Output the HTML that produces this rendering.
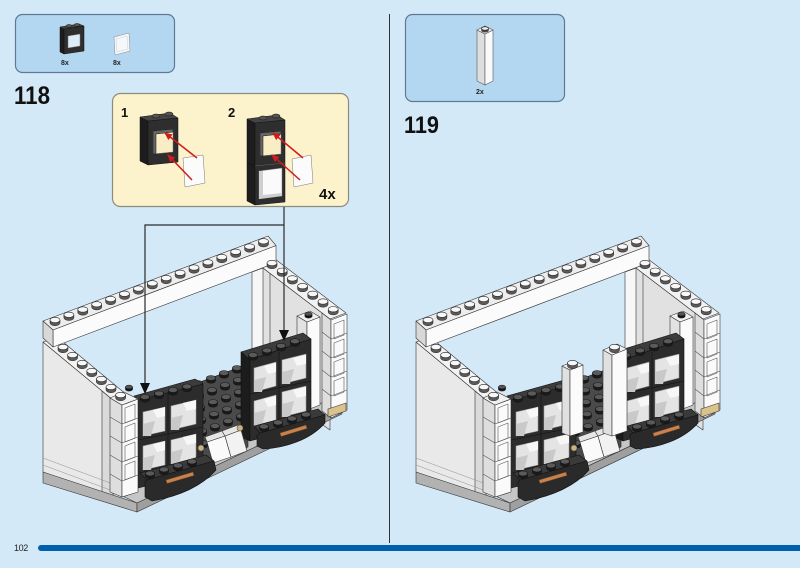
<!DOCTYPE html>
<html><head><meta charset="utf-8"><style>html,body{margin:0;padding:0;background:#d4e9f8;}svg{display:block}</style></head>
<body>
<svg width="800" height="568" viewBox="0 0 800 568" xmlns="http://www.w3.org/2000/svg" xmlns:xlink="http://www.w3.org/1999/xlink" font-family="'Liberation Sans', Arial, sans-serif">
<defs>
<g id="sw"><path d="M-5,0V3A5,2.7 0 0 0 5,3V0Z" fill="#5a5a5a" stroke="#222" stroke-width=".5"/><ellipse rx="5" ry="2.7" fill="#f8f8f8" stroke="#222" stroke-width=".6"/></g>
<g id="sd"><path d="M-4.6,0V2.8A4.6,2.5 0 0 0 4.6,2.8V0Z" fill="#1a1a1a" stroke="#111" stroke-width=".4"/><ellipse rx="4.6" ry="2.5" fill="#5a5a5a" stroke="#151515" stroke-width=".6"/></g>
<g id="sk"><path d="M-3.6,0V2.2A3.6,1.9 0 0 0 3.6,2.2V0Z" fill="#111"/><ellipse rx="3.6" ry="1.9" fill="#555" stroke="#111" stroke-width=".5"/></g>
<marker id="ar" markerUnits="userSpaceOnUse" markerWidth="8" markerHeight="7" refX="7" refY="3.5" orient="auto"><path d="M0,0 L8,3.5 L0,7 Z" fill="#d01c1c"/></marker>

<g id="model" stroke="#333" stroke-width="0.6" stroke-linejoin="round">
 <polygon points="259,265 330,319 330,430 259,380" fill="#e1e1e1"/>
 <line x1="270" y1="273" x2="270" y2="388"/>
 <polygon points="252,272 263,268 263,362 252,364" fill="#f7f7f7"/>
 <polygon points="259,265 275,259 346,313 330,319" fill="#f2f2f2"/>
 <polygon points="43,342 113,400 113,498 43,472" fill="#e9e9e9"/>
 <polygon points="102,391 113,400 113,498 102,494" fill="#dadada"/>
 <line x1="43" y1="458" x2="113" y2="484" stroke="#999"/>
 <line x1="43" y1="465" x2="113" y2="491" stroke="#999"/>
 <polygon points="43,342 57,337 127,395 113,400" fill="#f3f3f3"/>
 <polygon points="43,321 268,236 276,245.6 53,330" fill="#ededed"/>
 <polygon points="53,330 276,245.6 276,262.7 53,347" fill="#fbfbfb"/>
 <polygon points="43,321 53,330 53,347 43,338" fill="#d8d8d8"/>
 <use xlink:href="#sw" x="55" y="320"/><use xlink:href="#sw" x="68.9" y="314.75"/><use xlink:href="#sw" x="82.8" y="309.5"/><use xlink:href="#sw" x="96.7" y="304.25"/>
 <use xlink:href="#sw" x="110.6" y="299"/><use xlink:href="#sw" x="124.5" y="293.75"/><use xlink:href="#sw" x="138.4" y="288.5"/><use xlink:href="#sw" x="152.3" y="283.25"/>
 <use xlink:href="#sw" x="166.2" y="278"/><use xlink:href="#sw" x="180.1" y="272.75"/><use xlink:href="#sw" x="194" y="267.5"/><use xlink:href="#sw" x="207.9" y="262.25"/>
 <use xlink:href="#sw" x="221.8" y="257"/><use xlink:href="#sw" x="235.7" y="251.75"/><use xlink:href="#sw" x="249.6" y="246.5"/><use xlink:href="#sw" x="263.5" y="241.25"/>
 <use xlink:href="#sw" x="272" y="263"/><use xlink:href="#sw" x="282.2" y="270.7"/><use xlink:href="#sw" x="292.4" y="278.4"/><use xlink:href="#sw" x="302.6" y="286.1"/>
 <use xlink:href="#sw" x="312.8" y="293.8"/><use xlink:href="#sw" x="323" y="301.5"/>
 <use xlink:href="#sw" x="63" y="347"/><use xlink:href="#sw" x="72.6" y="355"/><use xlink:href="#sw" x="82.2" y="363"/><use xlink:href="#sw" x="91.8" y="371"/>
 <use xlink:href="#sw" x="101.4" y="379"/><use xlink:href="#sw" x="111" y="387"/>
 <polygon points="43,472 137,503 137,512 43,483" fill="#b2b2b2"/>
 <polygon points="110,490 137,503 342,406 335,397 140,482" fill="#c6c6c6"/>
 <polygon points="137,503 342,406 342,414 137,512" fill="#9f9f9f"/>
 <polygon points="297,316 307,322 307,410 297,404" fill="#e2e2e2"/>
 <polygon points="307,322 320,317 320,405 307,410" fill="#fbfbfb"/>
 <polygon points="297,316 310,311 320,317 307,322" fill="#f0f0f0"/>
 <use xlink:href="#sk" x="308.5" y="314"/>
 <polygon points="322,313 331,320 331,418 322,411" fill="#dedede"/>
 <polygon points="331,320 347,314 347,410 331,418" fill="#fafafa"/>
 <g fill="none" stroke="#555">
  <path d="M322,332 L331,339 L347,333"/><path d="M322,351 L331,358 L347,352"/><path d="M322,370 L331,377 L347,371"/><path d="M322,389 L331,396 L347,390"/>
  <path d="M334,324 L344,320 L344,335 L334,339 Z"/><path d="M334,343 L344,339 L344,354 L334,358 Z"/><path d="M334,362 L344,358 L344,373 L334,377 Z"/><path d="M334,381 L344,377 L344,392 L334,396 Z"/>
 </g>
 <use xlink:href="#sw" x="333.2" y="309.2"/>
 <polygon points="328,409 346,403 346,411 328,417" fill="#d9c28c"/>
 <polygon points="192,385 248,364 248,447 192,470" fill="#4a4a4a" stroke="#222"/>
 <use xlink:href="#sd" x="198" y="383"/><use xlink:href="#sd" x="211" y="378"/><use xlink:href="#sd" x="224" y="373"/><use xlink:href="#sd" x="237" y="368"/>
 <use xlink:href="#sd" x="199" y="395"/><use xlink:href="#sd" x="212" y="390"/><use xlink:href="#sd" x="225" y="385"/><use xlink:href="#sd" x="238" y="380"/>
 <use xlink:href="#sd" x="200" y="407"/><use xlink:href="#sd" x="213" y="402"/><use xlink:href="#sd" x="226" y="397"/><use xlink:href="#sd" x="239" y="392"/>
 <use xlink:href="#sd" x="201" y="419"/><use xlink:href="#sd" x="214" y="414"/><use xlink:href="#sd" x="227" y="409"/><use xlink:href="#sd" x="240" y="404"/>
 <use xlink:href="#sd" x="202" y="431"/><use xlink:href="#sd" x="215" y="426"/><use xlink:href="#sd" x="228" y="421"/><use xlink:href="#sd" x="241" y="416"/>
 <use xlink:href="#sd" x="203" y="443"/><use xlink:href="#sd" x="216" y="438"/><use xlink:href="#sd" x="229" y="433"/><use xlink:href="#sd" x="242" y="428"/>
 <polygon points="241,352 303,333 311,339 250,360" fill="#3c3c3c" stroke="#151515"/>
 <polygon points="241,352 250,360 250,441 241,437" fill="#1c1c1c" stroke="#111"/>
 <polygon points="250,360 311,339 311,424 250,441" fill="#2c2c2c" stroke="#111"/>
 <line x1="250" y1="394" x2="311" y2="381" stroke="#111"/>
 <line x1="279" y1="352" x2="279" y2="433" stroke="#111"/>
 <use xlink:href="#sd" x="253" y="355"/><use xlink:href="#sd" x="267" y="350.4"/><use xlink:href="#sd" x="281" y="345.8"/><use xlink:href="#sd" x="295" y="341.2"/>
 <g fill="#e4e4e4" stroke="#999">
  <polygon points="254,368 276,362 276,386 254,392"/><polygon points="282,360 306,354 306,378 282,384"/>
  <polygon points="254,401 276,395 276,420 254,426"/><polygon points="282,392 306,386 306,411 282,417"/>
 </g>
 <g fill="#c9c9c9" stroke="none">
  <polygon points="254,380 266,377 262,392 254,392"/><polygon points="282,372 294,369 290,384 282,384"/>
  <polygon points="254,413 266,410 262,426 254,426"/><polygon points="282,404 294,401 290,417 282,417"/>
 </g>
 <g fill="#f7f7f7" stroke="none">
  <polygon points="264,366 276,363 276,372 268,374"/><polygon points="293,358 306,355 306,364 297,366"/>
  <polygon points="264,399 276,396 276,405 268,407"/><polygon points="293,390 306,387 306,396 297,398"/>
 </g>
 <polygon points="134,396 195,379 203,384 140,401" fill="#3c3c3c" stroke="#151515"/>
 <polygon points="138,400 203,384 203,472 138,488" fill="#2c2c2c" stroke="#111"/>
 <line x1="138" y1="440" x2="203" y2="427" stroke="#111"/>
 <line x1="168" y1="393" x2="168" y2="480" stroke="#111"/>
 <use xlink:href="#sd" x="145" y="397"/><use xlink:href="#sd" x="159" y="393.5"/><use xlink:href="#sd" x="173" y="390"/><use xlink:href="#sd" x="187" y="386.5"/>
 <g fill="#e4e4e4" stroke="#999">
  <polygon points="143,412 165,407 165,431 143,436"/><polygon points="171,406 196,400 196,424 171,430"/>
  <polygon points="143,446 165,441 165,465 143,470"/><polygon points="171,440 196,434 196,458 171,464"/>
 </g>
 <g fill="#c9c9c9" stroke="none">
  <polygon points="143,424 155,421 151,436 143,436"/><polygon points="171,418 183,415 179,430 171,430"/>
  <polygon points="143,458 155,455 151,470 143,470"/><polygon points="171,452 183,449 179,464 171,464"/>
 </g>
 <g fill="#f7f7f7" stroke="none">
  <polygon points="153,410 165,407 165,416 157,418"/><polygon points="183,403 196,400 196,409 187,411"/>
  <polygon points="153,444 165,441 165,450 157,452"/><polygon points="183,437 196,434 196,443 187,445"/>
 </g>
 <polygon points="207,442 225,436 231,457 213,463" fill="#fafafa"/>
 <polygon points="225,436 241,430 247,451 231,457" fill="#f2f2f2"/>
 <polygon points="205,437 222,431 225,436 207,442" fill="#e6e6e6"/>
 <polygon points="222,431 238,425 241,430 225,436" fill="#e6e6e6"/>
 <circle cx="201" cy="448" r="3" fill="#cdb37a" stroke="#555"/>
 <circle cx="240" cy="428" r="3" fill="#cdb37a" stroke="#555"/>
 <polygon points="140,473 206,455 214,461 147,480" fill="#3a3a3a" stroke="#111"/>
 <path d="M147,480 L214,461 L216,470 C200,488 175,497 152,501 L145,497 L145,482 Z" fill="#2a2a2a" stroke="#111"/>
 <use xlink:href="#sd" x="150" y="473.5"/><use xlink:href="#sd" x="164" y="469.5"/><use xlink:href="#sd" x="178" y="465.5"/><use xlink:href="#sd" x="192" y="461.5"/>
 <polygon points="166,480 193,472 194,475.5 167,483.5" fill="#c9824e" stroke="#6a4020"/>
 <polygon points="254,426 318,409 325,415 260,433" fill="#3a3a3a" stroke="#111"/>
 <path d="M260,433 L325,415 L325,423 C310,440 285,448 263,449 L257,446 L257,435 Z" fill="#2a2a2a" stroke="#111"/>
 <use xlink:href="#sd" x="264" y="426.5"/><use xlink:href="#sd" x="278" y="422.5"/><use xlink:href="#sd" x="292" y="418.5"/><use xlink:href="#sd" x="306" y="414.5"/>
 <polygon points="280,433 306,425 307,428.5 281,436.5" fill="#c9824e" stroke="#6a4020"/>
 <polygon points="110,398 122,405 122,497 110,492" fill="#dedede"/>
 <polygon points="122,405 138,399 138,492 122,497" fill="#fafafa"/>
 <polygon points="110,398 124,392 138,399 122,405" fill="#f0f0f0"/>
 <g fill="none" stroke="#555">
  <path d="M110,417 L122,424 L138,418"/><path d="M110,436 L122,443 L138,437"/><path d="M110,455 L122,462 L138,456"/><path d="M110,474 L122,481 L138,475"/>
  <path d="M125,408 L135,404 L135,419 L125,423 Z"/><path d="M125,427 L135,423 L135,438 L125,442 Z"/><path d="M125,446 L135,442 L135,457 L125,461 Z"/><path d="M125,465 L135,461 L135,476 L125,480 Z"/>
 </g>
 <use xlink:href="#sk" x="129" y="387"/>
 <use xlink:href="#sw" x="120.6" y="395"/>
</g>
</defs>

<rect width="800" height="568" fill="#d4e9f8"/>

<line x1="389.5" y1="14" x2="389.5" y2="543" stroke="#333" stroke-width="1"/>
<rect x="38" y="545" width="780" height="6" rx="3" fill="#0060ae"/>
<text x="14" y="551" font-size="9" fill="#222" letter-spacing="-0.4">102</text>

<rect x="15.5" y="14.5" width="159" height="58" rx="7" fill="#b4d7f1" stroke="#5e7a92" stroke-width="1.2"/>
<g stroke="#111" stroke-width="0.5">
 <polygon points="60,27 64,29 64,54 60,52" fill="#1d1d1d"/>
 <polygon points="64,29 84,26 84,51 64,54" fill="#2e2e2e"/>
 <polygon points="60,27 79,24 84,26 64,29" fill="#444"/>
 <polygon points="68,36 80,34 80,46 68,48" fill="#dcecf8" stroke="#777"/>
 <ellipse cx="69" cy="26" rx="3" ry="1.5" fill="#555"/><ellipse cx="77" cy="25" rx="3" ry="1.5" fill="#555"/>
 <polygon points="114,37 129,33 130,51 115,55" fill="#f4f8fb" stroke="#888"/>
 <polygon points="116,39 127,36 128,49 117,52" fill="none" stroke="#ccc"/>
</g>
<text x="61" y="65" font-size="7" font-weight="bold" fill="#222">8x</text>
<text x="113" y="65" font-size="7" font-weight="bold" fill="#222">8x</text>

<text x="14" y="104" font-size="25" font-weight="bold" fill="#111" textLength="36" lengthAdjust="spacingAndGlyphs">118</text>

<rect x="112.5" y="93.5" width="236" height="113" rx="8" fill="#fcf2cc" stroke="#8d8b7c" stroke-width="1.2"/>
<text x="121" y="117" font-size="13" font-weight="bold" fill="#111">1</text>
<text x="228" y="117" font-size="13" font-weight="bold" fill="#111">2</text>
<text x="319" y="199" font-size="15" font-weight="bold" fill="#111">4x</text>
<g stroke="#111" stroke-width="0.5">
 <polygon points="140,117 148,121 148,165 140,161" fill="#1d1d1d"/>
 <polygon points="148,121 178,118 178,162 148,165" fill="#2e2e2e"/>
 <polygon points="140,117 170,113 178,118 148,121" fill="#444"/>
 <polygon points="153,131 173,129 173,152 153,154" fill="#f8edc4" stroke="#777"/>
 <polygon points="153,131 173,129 173,132 156,134 156,154 153,154" fill="#666"/>
 <ellipse cx="156" cy="116" rx="4" ry="2" fill="#555"/><ellipse cx="169" cy="114" rx="4" ry="2" fill="#555"/>
 <polygon points="183,158 203,155 205,183 185,187" fill="#fbfbfb" stroke="#777"/>
 <polygon points="247,119 255,123 255,205 247,201" fill="#1d1d1d"/>
 <polygon points="255,123 285,120 285,202 255,205" fill="#2e2e2e"/>
 <polygon points="247,119 277,115 285,120 255,123" fill="#444"/>
 <line x1="247" y1="163" x2="255" y2="166"/><line x1="255" y1="166" x2="285" y2="163" stroke="#666"/>
 <polygon points="260,133 281,131 281,154 260,156" fill="#f8edc4" stroke="#777"/>
 <polygon points="260,133 281,131 281,134 263,136 263,156 260,156" fill="#666"/>
 <polygon points="259,171 282,168 282,196 259,199" fill="#fafafa" stroke="#777"/>
 <polygon points="259,171 263,171 263,195 282,193 282,196 259,199" fill="#cfcfcf" stroke="none"/>
 <ellipse cx="263" cy="118" rx="4" ry="2" fill="#555"/><ellipse cx="276" cy="116" rx="4" ry="2" fill="#555"/>
 <polygon points="292,159 311,155 313,183 294,187" fill="#fbfbfb" stroke="#777"/>
</g>
<g stroke="#d01c1c" stroke-width="1.5" fill="none" marker-end="url(#ar)">
 <line x1="197" y1="158" x2="165" y2="133"/>
 <line x1="192" y1="180" x2="168" y2="155"/>
 <line x1="303" y1="158" x2="273" y2="133"/>
 <line x1="300" y1="180" x2="272" y2="155"/>
</g>

<use xlink:href="#model"/>
<g stroke="#2a2a2a" stroke-width="1.2" fill="none">
 <path d="M284,207 V332"/>
 <path d="M284,225 H145 V385"/>
</g>
<polygon points="279,330 289,330 284,341" fill="#111"/>
<polygon points="140,383 150,383 145,394" fill="#111"/>

<rect x="405.5" y="14.5" width="159" height="87" rx="7" fill="#b4d7f1" stroke="#5e7a92" stroke-width="1.2"/>
<g stroke="#555" stroke-width="0.6">
 <polygon points="477,30 485,34 485,85 477,81" fill="#dedede"/>
 <polygon points="485,34 493,30 493,81 485,85" fill="#fafafa"/>
 <polygon points="477,30 485,26 493,30 485,34" fill="#f0f0f0"/>
 <path d="M481.5,28.5V30.5A3.5,1.7 0 0 0 488.5,30.5V28.5Z" fill="#444"/>
 <ellipse cx="485" cy="28.5" rx="3.5" ry="1.7" fill="#eee" stroke="#222"/>
</g>
<text x="476" y="94" font-size="7" font-weight="bold" fill="#222">2x</text>

<text x="404" y="133" font-size="24" font-weight="bold" fill="#111" textLength="35" lengthAdjust="spacingAndGlyphs">119</text>

<use xlink:href="#model" x="373"/>
<g stroke="#333" stroke-width="0.6" stroke-linejoin="round">
 <polygon points="562,366 570,370 570,436 562,433" fill="#e0e0e0"/>
 <polygon points="570,370 583,365 583,432 570,436" fill="#fbfbfb"/>
 <polygon points="562,366 575,361 583,365 570,370" fill="#f0f0f0"/>
 <use xlink:href="#sw" x="572.5" y="363"/>
 <polygon points="603,350 612,355 612,436 603,433" fill="#e0e0e0"/>
 <polygon points="612,355 627,349 627,431 612,436" fill="#fbfbfb"/>
 <polygon points="603,350 617,344 627,349 612,355" fill="#f0f0f0"/>
 <use xlink:href="#sw" x="614.5" y="347"/>
</g>
</svg>
</body></html>
